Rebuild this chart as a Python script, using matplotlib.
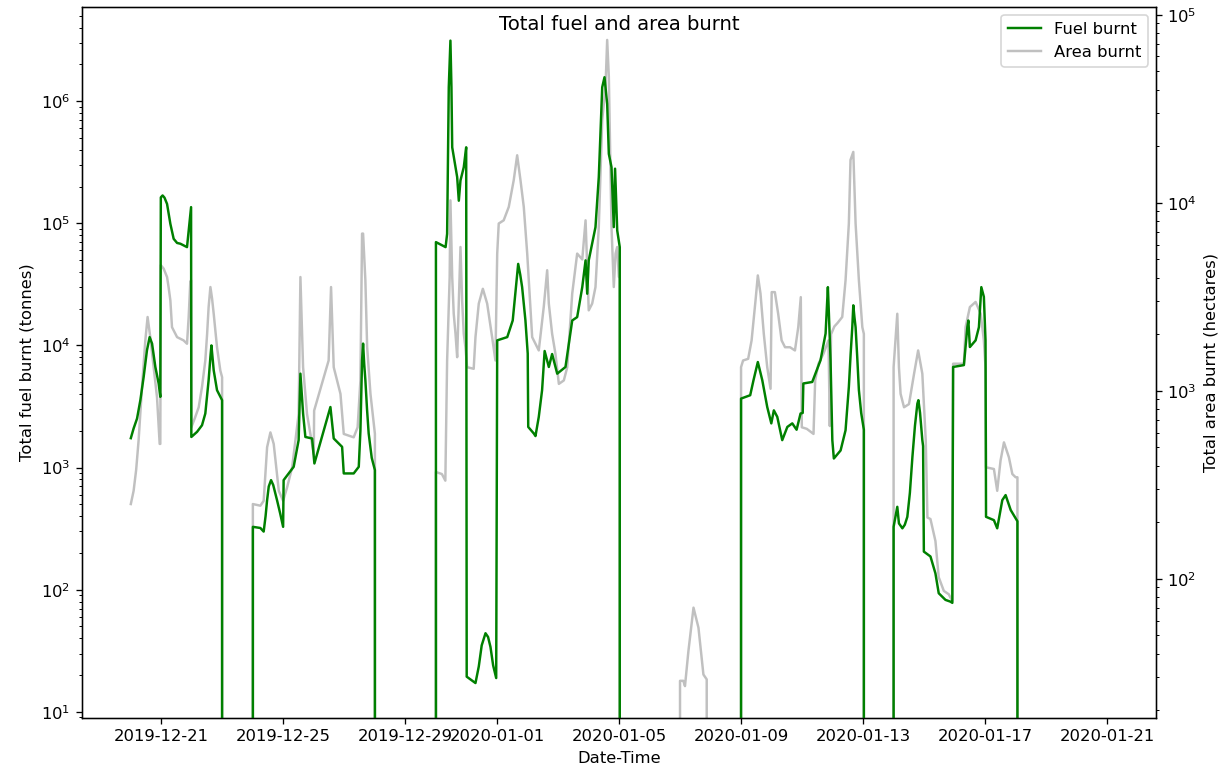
import matplotlib
matplotlib.use("Agg")
import matplotlib.pyplot as plt
import matplotlib.dates as mdates
import pandas as pd

# Hourly series, keyed by hours since 2019-12-20 00:00 (0 = nothing burnt)
start = pd.Timestamp("2019-12-20 00:00")

fuel_hours = [
    0, 2.2, 4.9, 7.5, 10.1, 12.7, 14.8, 16.7, 19.3, 21.9, 23.2, 23.6, 25.0, 26.5,
    28.5, 31.1, 33.7, 36.4, 39.0, 44.2, 45.5, 47.4, 47.6, 52.1, 56.0, 58.6, 61.2,
    62.6, 63.4, 65.2, 67.8, 71.8, 72.5, 95.5,
    96, 101.9, 104.5, 106.0, 107.2, 108.5, 110.3, 112.0, 115.0, 117.5, 119.8, 120.2,
    128.1, 132.0, 133.4, 135.5, 137.3, 142.6, 144.4, 157.0, 159.6, 166.2, 167.5,
    175.3, 179.3, 180.6, 181.9, 182.7, 183.6, 184.5, 185.8, 187.1, 189.5, 192.0,
    192.5, 239.5,
    240, 247.6, 248.8, 250.1, 251.4, 252.2, 252.8, 256.7, 258.0, 259.3, 261.9, 263.8,
    264.2, 271.1, 273.7, 276.0, 279.0, 281.0, 282.9, 285.0, 287.4, 288.2, 296.1,
    300.4, 302.5, 304.7, 306.3, 307.8, 310.4, 312.2, 312.6, 317.0, 318.3, 320.9,
    323.5, 325.5, 328.8, 331.4, 335.4, 341.9, 347.2, 351.1, 355.1, 357.7, 359.0,
    360.2, 365.5, 368.1, 370.8, 372.6, 374.7, 376.0, 378.1, 379.9, 380.9, 382.6,
    384.6, 385.0, 479.5,
    480, 487.2, 489.8, 493.2, 496.7, 500.6, 503.8, 505.8, 508.5, 512.4, 516.4, 520.3,
    523.7, 526.8, 528.5, 529.0, 536.0, 542.5, 546.5, 548.3, 549.1, 550.4, 551.8,
    553.0, 558.3, 562.2, 564.8, 566.2, 567.5, 568.3, 569.2, 570.1, 571.4, 572.7,
    574.5, 576.6, 577.0, 599.5,
    600, 602.9, 604.2, 606.9, 608.8, 610.8, 612.8, 614.8, 616.8, 618.7, 619.5, 620.8,
    622.6, 623.2, 623.8, 629.0, 632.9, 635.5, 640.8, 644.7, 646.2, 646.8, 655.3,
    658.0, 658.8, 660.0, 664.5, 667.1, 669.0, 671.0, 672.3, 672.7, 678.9, 681.5,
    685.5, 688.1, 692.1, 697.4, 698.0, 768.0,
]
fuel_tonnes = [
    1740, 2090, 2520, 3560, 5520, 9120, 11700, 10350, 6660, 4880, 3790, 163000,
    169000, 162000, 144000, 99000, 74600, 69000, 68000, 63800, 87300, 135600, 1780,
    1960, 2220, 2770, 5190, 8030, 10000, 6250, 4300, 3560, 0, 0,
    327, 320, 299, 400, 541, 700, 789, 720, 541, 420, 327, 789, 1014, 1676, 5870,
    2770, 1780, 1730, 1080, 3130, 1730, 1477, 895, 895, 1014, 2000, 7550, 10350,
    7000, 5190, 3000, 1900, 1200, 953, 0, 0,
    70100, 63800, 82000, 1300000, 3130000, 1300000, 419000, 239000, 153000, 224000,
    288000, 419000, 19.4, 17.2, 23.5, 35, 44, 41, 34, 24, 18.9, 11000, 11700, 16000,
    27000, 46500, 38000, 30000, 16000, 8570, 2150, 1900, 1810, 2600, 4300, 9000,
    6660, 8500, 5870, 6660, 16000, 17060, 30000, 49700, 26500, 49700, 93000, 239000,
    1300000, 1570000, 949000, 370000, 288000, 93000, 280000, 87300, 63800, 0, 0,
    3670, 3910, 5190, 7310, 5190, 3130, 2300, 2940, 2600, 1676, 2150, 2300, 2040,
    2770, 2800, 4880, 5020, 7550, 12500, 30000, 18200, 7550, 1676, 1186, 1380, 2020,
    4570, 8500, 14100, 21300, 17000, 14100, 8000, 4300, 2800, 2040, 0, 0,
    327, 477, 349, 318, 340, 395, 620, 1224, 2200, 3340, 3560, 2800, 1676, 1500, 205,
    187, 136, 93.5, 82.5, 79.8, 78, 6660, 6900, 14100, 16000, 9700, 11000, 14100,
    30000, 25000, 11000, 395, 371, 318, 541, 595, 449, 363, 0, 0,
]

area_hours = [
    0, 2.2, 4.2, 6.1, 8.8, 11.4, 13.2, 15.3, 17.9, 20.6, 22.7, 23.2, 23.6, 25.8, 28.5,
    29.7, 31.1, 32.4, 36.4, 41.5, 44.2, 45.5, 46.8, 47.4, 47.6, 50.5, 53.4, 56.0,
    58.6, 60.0, 61.2, 62.6, 63.9, 65.2, 67.8, 70.4, 71.8, 72.5, 95.5,
    96, 101.9, 104.5, 107.2, 109.8, 112.4, 116.4, 119.8, 122.9, 126.9, 132.0, 133.4,
    135.5, 138.6, 142.6, 143.9, 144.2, 155.6, 157.5, 159.6, 164.9, 167.5, 175.3,
    178.4, 180.6, 181.9, 182.7, 184.5, 185.9, 188.5, 192.0, 192.5, 239.5,
    240, 244.7, 247.4, 248.8, 250.8, 251.4, 252.8, 254.0, 255.4, 256.7, 259.3, 260.6,
    261.9, 263.2, 264.5, 269.7, 271.1, 273.7, 276.9, 280.3, 284.2, 286.8, 288.2,
    289.4, 293.3, 297.3, 301.2, 303.9, 306.5, 309.1, 311.8, 315.7, 320.9, 324.8,
    327.5, 328.8, 331.4, 334.0, 336.7, 340.6, 343.3, 347.2, 351.1, 355.1, 357.7,
    360.2, 362.9, 365.5, 368.1, 370.8, 373.4, 374.7, 376.0, 378.1, 379.9, 381.3,
    382.6, 383.9, 384.6, 385.0, 431.5,
    432, 434.6, 435.9, 438.6, 442.6, 446.5, 450.4, 453.0, 453.5, 479.5,
    480, 481.6, 485.6, 488.3, 491.4, 493.2, 495.3, 497.9, 500.6, 503.2, 504.1, 506.6,
    509.2, 511.9, 514.6, 518.5, 522.4, 525.0, 527.0, 527.8, 531.7, 537.0, 538.3,
    540.9, 544.8, 548.8, 549.8, 550.8, 553.4, 556.0, 559.6, 562.2, 564.8, 566.1,
    568.3, 570.1, 572.7, 575.4, 576.6, 577.0, 599.5,
    600, 602.9, 604.2, 605.5, 608.2, 612.1, 616.1, 619.3, 622.6, 625.3, 626.6, 629.0,
    632.9, 635.5, 639.5, 643.4, 646.1, 646.8, 655.3, 656.6, 660.0, 664.5, 668.5,
    671.0, 672.3, 672.7, 678.9, 681.5, 684.1, 686.8, 690.7, 693.4, 696.0, 697.4,
    698.0, 768.0,
]
area_hectares = [
    250, 294, 380, 543, 1045, 1850, 2470, 1930, 1340, 925, 522, 522, 4660, 4470,
    4030, 3565, 3030, 2180, 1930, 1855, 1780, 2470, 3800, 3870, 640, 720, 818, 1050,
    1450, 2000, 2790, 3565, 3100, 2570, 1706, 1283, 1181, 0, 0,
    250, 245, 260, 501, 601, 522, 294, 260, 306, 392, 753, 4030, 1336, 753, 522, 461,
    785, 1450, 3565, 1336, 964, 590, 566, 640, 1136, 6860, 6860, 3870, 1706, 964, 590,
    0, 0,
    370, 361, 333, 1450, 4030, 10300, 4030, 2570, 2010, 1510, 5820, 3030, 2010, 1706,
    1336, 1310, 1930, 2910, 3490, 2910, 1930, 1450, 5370, 7760, 8070, 9510, 13200,
    17900, 13200, 9510, 5370, 1930, 1640, 2790, 4380, 2910, 2010, 1575, 1089, 1136,
    1336, 3290, 5370, 5000, 8070, 2680, 2910, 3565, 7450, 27600, 41400, 73500, 46900,
    7450, 3565, 5370, 5820, 4030, 4030, 0, 0,
    28.7, 28.7, 26.9, 41.3, 70.3, 55, 31, 29.2, 0, 0,
    1336, 1450, 1480, 1855, 3030, 4110, 3290, 2010, 1336, 1026, 3350, 3350, 2570,
    1855, 1706, 1706, 1640, 2180, 3150, 640, 628, 590, 1136, 1394, 1575, 1855, 650,
    2000, 2200, 2300, 2470, 3870, 7760, 16900, 18650, 7760, 3870, 2180, 2010, 0, 0,
    1336, 2570, 1336, 964, 818, 850, 1233, 1640, 1233, 543, 212, 208, 159, 102, 86.3,
    82.8, 76.3, 1394, 1394, 2180, 2790, 2970, 2570, 1855, 1336, 392, 384, 294, 425,
    532, 443, 361, 347, 347, 0, 0,
]

fuel_time = start + pd.to_timedelta(fuel_hours, unit="h")
area_time = start + pd.to_timedelta(area_hours, unit="h")

W, H, DPI = 1231, 766, 118
fig = plt.figure(figsize=(W / DPI, H / DPI), dpi=DPI)
ax = fig.add_axes([82 / W, 1 - 718 / H, (1156 - 82) / W, (718 - 7) / H])
ax2 = ax.twinx()
# keep the fuel trace above the area trace
ax.set_zorder(ax2.get_zorder() + 1)
ax.patch.set_visible(False)

fuel_line, = ax.plot(fuel_time, fuel_tonnes, color="green", lw=1.5)
area_line, = ax2.plot(area_time, area_hectares, color="silver", lw=1.5)

ax.set_yscale("log")
ax2.set_yscale("log")
ax.set_ylim(8.9, 5.9e6)
ax2.set_ylim(18.2, 1.1e5)
ax.set_xlim(start - pd.Timedelta(hours=38.4), start + pd.Timedelta(hours=806.4))

ax.xaxis.set_major_locator(mdates.DayLocator(bymonthday=[1, 5, 9, 13, 17, 21, 25, 29]))
ax.xaxis.set_major_formatter(mdates.DateFormatter("%Y-%m-%d"))

ax.set_xlabel("Date-Time")
ax.set_ylabel("Total fuel burnt (tonnes)")
ax2.set_ylabel("Total area burnt (hectares)")

ax.legend([fuel_line, area_line], ["Fuel burnt", "Area burnt"], loc="upper right")

fig.text((82 + 1156) / 2 / W, 1 - 24 / H, "Total fuel and area burnt",
         ha="center", va="center", fontsize=12)

fig.savefig("out.png", dpi=DPI)
